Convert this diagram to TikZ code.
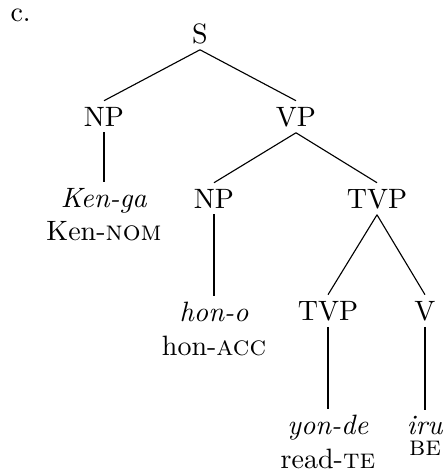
\documentclass[tikz,border=0pt]{standalone}
\usepackage{amsmath,amssymb}
\usepackage{tikz}
\usetikzlibrary{positioning}

\begin{document}
\begin{tikzpicture}[
    x=0.357pt, y=-0.357pt,
    cat/.style={anchor=base, inner sep=2pt},
    leaf/.style={anchor=north, inner sep=2pt, align=center},
    branch/.style={line width=0.4pt, draw=black},
  ]
    \useasboundingbox (0,0) rectangle (445,473);
    \node[anchor=base west, inner sep=0pt] (lbl) at (10,21) {c.};
    % categories
    \node[cat] (s) at (200,43) {S};
    \node[cat] (np1) at (104,126) {NP};
    \node[cat] (vp) at (296,126) {VP};
    \node[cat] (np2) at (214,208) {NP};
    \node[cat] (tvp1) at (377,208) {TVP};
    \node[cat] (tvp2) at (328,320) {TVP};
    \node[cat] (v) at (425,320) {V};
    % words
    \node[leaf] (kenga) at (104,182) {\textit{Ken-ga}\\Ken-\textsc{nom}};
    \node[leaf] (hono) at (214,296) {\textit{hon-o}\\hon-\textsc{acc}};
    \node[leaf] (yonde) at (328,409) {\textit{yon-de}\\read-\textsc{te}};
    \node[leaf] (iru) at (425,410) {\textit{iru}\\[-4.5pt]\textsc{be}};
    \draw[branch] (s.south) -- (np1.north);
    \draw[branch] (s.south) -- (vp.north);
    \draw[branch] (np1.south) -- (kenga.north);
    \draw[branch] (vp.south) -- (np2.north);
    \draw[branch] (vp.south) -- (tvp1.north);
    \draw[branch] (np2.south) -- (hono.north);
    \draw[branch] (tvp1.south) -- (tvp2.north);
    \draw[branch] (tvp1.south) -- (v.north);
    \draw[branch] (tvp2.south) -- (yonde.north);
    \draw[branch] (v.south) -- (iru.north);
  \end{tikzpicture}
\end{document}
